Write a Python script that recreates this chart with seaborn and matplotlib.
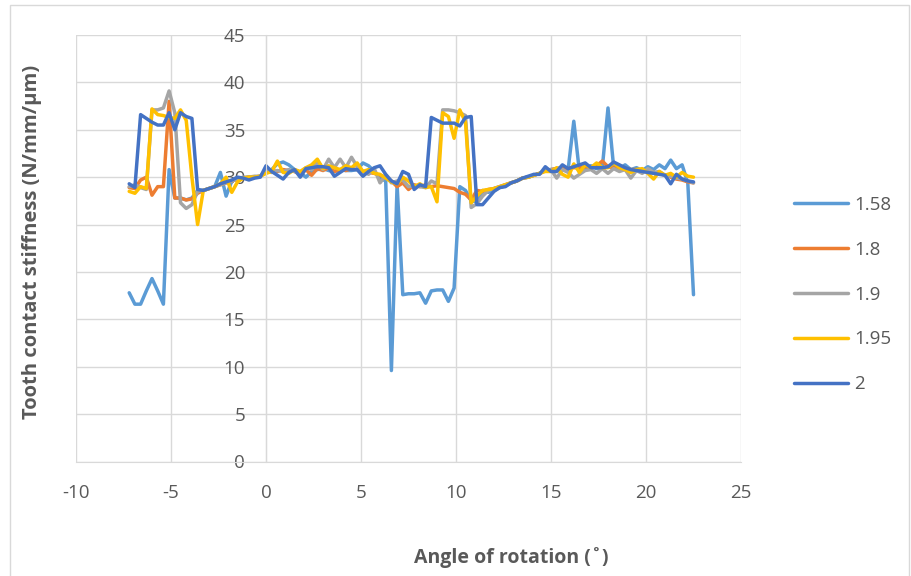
import numpy as np
import pandas as pd
import matplotlib
matplotlib.use('Agg')
import matplotlib.pyplot as plt
import seaborn as sns
from matplotlib.lines import Line2D
from matplotlib.patches import Rectangle

# angle of rotation (deg)
angle = [-7.2, -6.9, -6.6, -6.3, -6.0, -5.7, -5.4, -5.1, -4.8, -4.5,
         -4.2, -3.9, -3.6, -3.3, -3.0, -2.7, -2.4, -2.1, -1.8, -1.5,
         -1.2, -0.9, -0.6, -0.3, 0.0, 0.3, 0.6, 0.9, 1.2, 1.5,
         1.8, 2.1, 2.4, 2.7, 3.0, 3.3, 3.6, 3.9, 4.2, 4.5,
         4.8, 5.1, 5.4, 5.7, 6.0, 6.3, 6.6, 6.9, 7.2, 7.5,
         7.8, 8.1, 8.4, 8.7, 9.0, 9.3, 9.6, 9.9, 10.2, 10.5,
         10.8, 11.1, 11.4, 11.7, 12.0, 12.3, 12.6, 12.9, 13.2, 13.5,
         13.8, 14.1, 14.4, 14.7, 15.0, 15.3, 15.6, 15.9, 16.2, 16.5,
         16.8, 17.1, 17.4, 17.7, 18.0, 18.3, 18.6, 18.9, 19.2, 19.5,
         19.8, 20.1, 20.4, 20.7, 21.0, 21.3, 21.6, 21.9, 22.2, 22.5]

# tooth contact stiffness (N/mm/um) per contact ratio
s158 = [17.8, 16.6, 16.6, 18.0, 19.3, 18.0, 16.6, 30.8, 27.8, 27.8,
        27.6, 27.8, 28.6, 28.6, 28.8, 29.0, 30.5, 28.0, 29.6, 29.8,
        29.9, 30.0, 30.0, 30.1, 30.5, 30.8, 31.4, 31.6, 31.3, 30.8,
        30.5, 30.0, 30.6, 30.8, 30.9, 30.7, 30.6, 30.8, 30.7, 30.7,
        30.8, 31.5, 31.2, 30.6, 29.9, 29.6, 9.6, 29.2, 17.6, 17.7,
        17.7, 17.8, 16.7, 18.0, 18.1, 18.1, 16.9, 18.3, 29.0, 28.6,
        27.5, 27.4, 28.6, 28.4, 28.6, 28.9, 29.1, 29.4, 29.6, 29.9,
        30.0, 30.2, 30.4, 30.7, 30.8, 30.9, 31.0, 30.8, 35.9, 30.5,
        31.0, 31.2, 30.9, 31.0, 37.3, 31.0, 30.9, 31.3, 30.8, 31.0,
        30.7, 31.1, 30.8, 31.3, 30.9, 31.8, 30.9, 31.3, 29.4, 17.6]

s18 = [28.9, 28.8, 29.7, 30.0, 28.1, 29.0, 29.0, 38.0, 27.8, 27.8,
       27.6, 27.7, 28.3, 28.6, 28.8, 29.0, 29.2, 29.4, 29.6, 29.8,
       29.9, 30.0, 30.0, 30.1, 30.6, 30.7, 30.6, 30.8, 30.7, 30.6,
       30.3, 30.8, 30.2, 30.9, 30.7, 31.0, 30.6, 30.8, 30.7, 30.9,
       30.8, 30.6, 30.5, 30.4, 30.2, 30.0, 29.6, 29.0, 29.4, 28.7,
       29.2, 29.0, 29.2, 29.0, 29.1, 29.0, 28.9, 28.8, 28.4, 28.2,
       27.6, 28.6, 28.5, 28.7, 28.8, 29.0, 29.2, 29.4, 29.6, 29.9,
       30.0, 30.2, 30.4, 30.7, 30.8, 30.9, 31.0, 30.9, 31.0, 31.0,
       31.1, 31.0, 31.2, 31.7, 31.1, 31.0, 31.0, 30.9, 30.8, 30.8,
       30.7, 30.6, 30.5, 30.4, 30.2, 30.0, 29.8, 29.7, 29.5, 29.4]

s19 = [29.0, 29.2, 28.9, 28.7, 37.1, 37.1, 37.3, 39.1, 36.8, 27.3,
       26.7, 27.1, 28.5, 28.6, 28.8, 29.0, 29.2, 29.4, 29.6, 29.8,
       30.0, 30.0, 30.1, 30.1, 30.6, 30.5, 30.7, 30.6, 30.8, 30.6,
       30.5, 31.0, 30.8, 31.6, 30.8, 31.9, 31.0, 31.9, 31.0, 32.1,
       31.1, 30.6, 30.3, 30.9, 29.4, 30.2, 29.4, 29.6, 29.7, 29.0,
       29.1, 29.0, 28.9, 29.6, 29.3, 37.1, 37.1, 37.0, 36.8, 36.5,
       26.8, 27.2, 28.0, 28.6, 28.8, 29.0, 29.2, 29.4, 29.6, 29.9,
       30.0, 30.2, 30.4, 30.7, 30.8, 29.9, 30.8, 30.5, 29.9, 30.3,
       30.7, 30.8, 30.4, 30.9, 30.4, 30.9, 30.6, 30.8, 29.9, 30.7,
       30.4, 30.9, 30.5, 30.6, 30.2, 30.1, 29.9, 29.8, 29.6, 29.4]

s195 = [28.5, 28.3, 29.0, 28.8, 37.2, 36.6, 36.5, 36.3, 36.2, 37.1,
        36.0, 30.0, 25.0, 28.6, 28.8, 29.0, 29.3, 30.0, 28.4, 29.5,
        29.9, 30.0, 30.0, 30.1, 30.4, 30.6, 31.7, 30.5, 30.4, 30.8,
        30.6, 31.0, 31.3, 31.9, 30.9, 31.2, 31.0, 30.8, 31.2, 31.0,
        31.5, 30.6, 30.8, 30.4, 30.3, 29.9, 29.5, 29.3, 30.0, 29.6,
        29.0, 29.3, 28.9, 29.0, 27.4, 36.8, 36.4, 34.1, 37.1, 35.8,
        27.3, 28.0, 28.6, 28.7, 28.8, 29.0, 29.2, 29.4, 29.6, 29.9,
        30.0, 30.2, 30.4, 30.6, 30.6, 31.0, 30.3, 30.0, 31.4, 30.5,
        31.3, 31.0, 31.5, 31.0, 31.0, 31.5, 31.0, 30.8, 30.5, 30.8,
        30.9, 30.4, 29.8, 30.6, 30.2, 30.4, 30.0, 30.5, 30.1, 30.0]

s2 = [29.3, 28.9, 36.6, 36.2, 35.8, 35.5, 35.5, 36.8, 35.0, 36.8,
      36.4, 36.2, 28.7, 28.6, 28.8, 29.0, 29.3, 29.5, 29.7, 30.0,
      29.9, 29.7, 29.9, 30.0, 31.2, 30.6, 30.2, 29.8, 30.5, 30.8,
      30.0, 30.9, 31.0, 31.1, 31.1, 31.0, 30.1, 30.5, 30.9, 30.8,
      30.8, 30.1, 30.6, 31.0, 31.2, 30.3, 29.6, 29.3, 30.6, 30.3,
      28.7, 29.2, 29.0, 36.3, 36.0, 35.7, 35.7, 35.7, 35.4, 36.3,
      36.4, 27.1, 27.1, 27.8, 28.5, 28.9, 29.0, 29.4, 29.6, 29.9,
      30.1, 30.3, 30.3, 31.1, 30.6, 30.6, 31.3, 30.9, 31.1, 31.3,
      31.5, 31.0, 31.0, 31.0, 31.1, 31.6, 31.3, 31.0, 30.8, 30.7,
      30.6, 30.5, 30.4, 30.3, 30.2, 29.3, 30.3, 29.8, 29.6, 29.5]

labels = ['1.58', '1.8', '1.9', '1.95', '2']
colors = ['#5B9BD5', '#ED7D31', '#A5A5A5', '#FFC000', '#4472C4']
series = [s158, s18, s19, s195, s2]

df = pd.DataFrame({
    'angle': angle * len(series),
    'stiffness': sum(series, []),
    'ratio': [lab for lab in labels for _ in angle],
})

sns.set_style('white')
plt.rcParams['font.family'] = ['Open Sans', 'DejaVu Sans']
plt.rcParams['axes.unicode_minus'] = False
text_color = '#595959'
grid_color = '#D9D9D9'
fs = 13.5
lw = 2.5

fig = plt.figure(figsize=(9.11, 5.76), dpi=100)
ax = fig.add_axes([76 / 911, 1 - 461.5 / 576, 665 / 911, 426.5 / 576])

sns.lineplot(data=df, x='angle', y='stiffness', hue='ratio', hue_order=labels,
             palette=dict(zip(labels, colors)), sort=False, estimator=None,
             linewidth=lw, legend=False, ax=ax)
for line in ax.get_lines():
    line.set_solid_joinstyle('round')

ax.set_xlim(-10, 25)
ax.set_ylim(0, 45)
ax.set_xticks(range(-10, 26, 5))
ax.set_yticks(range(0, 46, 5))
ax.grid(True, color=grid_color, linewidth=1)
ax.set_axisbelow(True)
ax.set_xlabel('')
ax.set_ylabel('')

ax.spines['top'].set_visible(False)
ax.spines['right'].set_visible(False)
ax.spines['left'].set_position(('data', 0))
ax.spines['left'].set_color(grid_color)
ax.spines['bottom'].set_color(grid_color)
ax.tick_params(length=0, labelsize=fs, colors=text_color)
ax.tick_params(axis='y', pad=15)
ax.tick_params(axis='x', pad=16)

fig.text(511 / 911, 1 - 558 / 576, 'Angle of rotation (˚)', ha='center', va='center',
         fontsize=14, fontweight='bold', color=text_color)
fig.text(32 / 911, 1 - 242 / 576, 'Tooth contact stiffness (N/mm/μm)', rotation=90,
         ha='center', va='center', fontsize=14.5, fontweight='bold', color=text_color)

handles = [Line2D([], [], color=c, linewidth=lw) for c in colors]
fig.legend(handles, labels, loc='upper left', bbox_to_anchor=(794 / 911, 1 - 196 / 576),
           frameon=False, fontsize=fs, labelcolor=text_color, handlelength=2.9,
           handletextpad=0.3, labelspacing=1.43, borderpad=0, borderaxespad=0)

# chart area border
fig.patches.append(Rectangle((10 / 911, -0.05), 899 / 911, 1.05 - 5 / 576,
                             transform=fig.transFigure, fill=False,
                             edgecolor=grid_color, linewidth=1))

fig.savefig('out.png', dpi=100)
